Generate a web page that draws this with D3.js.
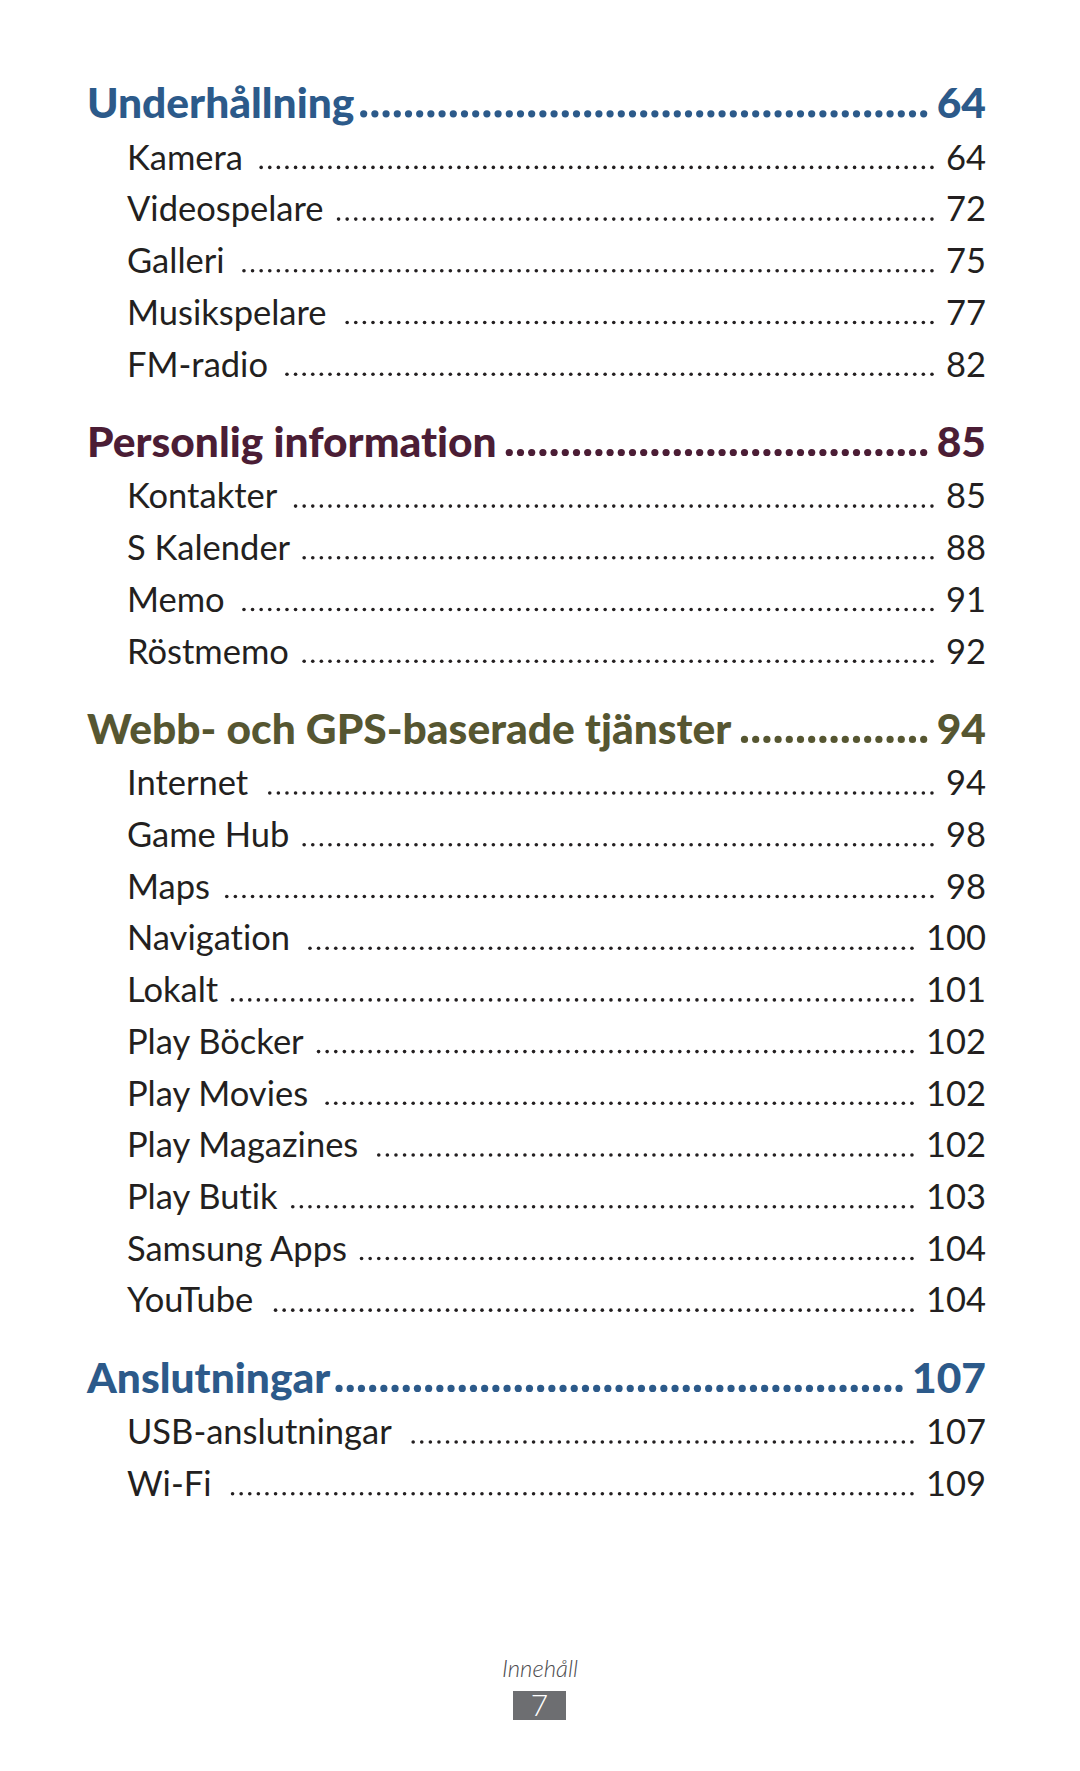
<!DOCTYPE html>
<html>
<head>
<meta charset="utf-8">
<script src="https://cdn.jsdelivr.net/npm/d3@7"></script>
<style>
  html, body { margin: 0; padding: 0; background: #ffffff; }
  svg { display: block; }
  text { font-variant-ligatures: none; font-feature-settings: "liga" 0, "clig" 0, "dlig" 0; }
</style>
</head>
<body>
<svg id="page" width="1080" height="1771"></svg>
<script>
// ---- data ----
const sectionTitles = ["Underhållning", "Personlig information", "Webb- och GPS-baserade tjänster", "Anslutningar"];
const sectionPages = [64, 85, 94, 107];
const sectionItems = [
  ["Kamera", "Videospelare", "Galleri", "Musikspelare", "FM-radio"],
  ["Kontakter", "S Kalender", "Memo", "Röstmemo"],
  ["Internet", "Game Hub", "Maps", "Navigation", "Lokalt", "Play Böcker", "Play Movies", "Play Magazines", "Play Butik", "Samsung Apps", "YouTube"],
  ["USB-anslutningar", "Wi-Fi"]
];
const itemPages = [
  [64, 72, 75, 77, 82],
  [85, 88, 91, 92],
  [94, 98, 98, 100, 101, 102, 102, 102, 103, 104, 104],
  [107, 109]
];
const footerLabel = "Innehåll";
const pageNumber = "7";

// ---- styles ----
const sectionColors = ["#2c5a8a", "#4b1d35", "#565631", "#2c5a8a"];
const textColor = "#231f20";
const fontFamily = "Lato, 'Open Sans', sans-serif";

// build row list
const rows = [];
let u = 0;
sectionTitles.forEach((t, si) => {
  if (si > 0) u += 1.55;
  rows.push({type: "head", label: t, page: sectionPages[si], color: sectionColors[si], u: u});
  sectionItems[si].forEach((it, ii) => {
    u += 1;
    rows.push({type: "item", label: it, page: itemPages[si][ii], color: textColor, u: u});
  });
});

const y = d3.scaleLinear().domain([0, 26.65]).range([118, 1496]);
const xHead = 87, xItem = 127, xRight = 986;

const svg = d3.select("#page");

const g = svg.selectAll("g.row").data(rows).join("g")
  .attr("class", d => "row " + d.type)
  .attr("transform", d => `translate(0,${y(d.u)})`);

g.each(function(d) {
  const sel = d3.select(this);
  const isHead = d.type === "head";
  const fs = isHead ? 42.5 : 34.5;
  const fw = isHead ? 900 : 400;
  const label = sel.append("text")
    .attr("x", isHead ? xHead : xItem)
    .attr("y", 0)
    .attr("fill", d.color)
    .attr("font-family", fontFamily)
    .attr("font-weight", fw)
    .attr("font-size", fs)
    .text(d.label);
  const num = sel.append("text")
    .attr("x", xRight)
    .attr("y", 0)
    .attr("text-anchor", "end")
    .attr("fill", d.color)
    .attr("font-family", fontFamily)
    .attr("font-weight", fw)
    .attr("font-size", fs)
    .text(d.page);
  const textEnd = (isHead ? xHead : xItem) + label.node().getComputedTextLength();
  const numStart = xRight - num.node().getComputedTextLength();
  const step = isHead ? 11.2 : 8.6;
  const r = isHead ? 3.6 : 1.8;
  const gapR = isHead ? 13 : 14;
  const gapL = isHead ? 7 : 14;
  const dots = [];
  for (let cx = numStart - gapR; cx >= textEnd + gapL; cx -= step) dots.push(cx);
  sel.selectAll("circle").data(dots).join("circle")
    .attr("cx", c => c)
    .attr("cy", isHead ? -4.2 : -2.3)
    .attr("r", r)
    .attr("fill", d.color);
});

// footer
svg.append("text")
  .attr("x", 540).attr("y", 1677)
  .attr("text-anchor", "middle")
  .attr("font-family", fontFamily)
  .attr("font-style", "italic")
  .attr("font-weight", 300)
  .attr("font-size", 24)
  .attr("fill", "#4d4d4f")
  .text(footerLabel);
svg.append("rect")
  .attr("x", 513).attr("y", 1691)
  .attr("width", 53).attr("height", 29)
  .attr("fill", "#6d6e71");
svg.append("text")
  .attr("x", 539.5).attr("y", 1716)
  .attr("text-anchor", "middle")
  .attr("font-family", fontFamily)
  .attr("font-weight", 300)
  .attr("font-size", 30)
  .attr("fill", "#ffffff")
  .text(pageNumber);
</script>
</body>
</html>
